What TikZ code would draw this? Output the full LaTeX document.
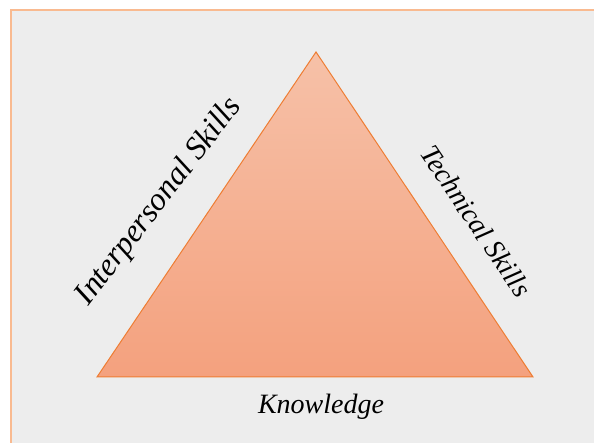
\documentclass[tikz,border=0pt]{standalone}
\usepackage{fontspec}
\setmainfont{Liberation Serif}
\definecolor{panelbg}{HTML}{EDEDED}
\definecolor{panelframe}{HTML}{F9BA90}
\definecolor{triedge}{HTML}{EE7D33}
\definecolor{tritop}{HTML}{F6C1A8}
\definecolor{tribottom}{HTML}{F4A17E}
\begin{document}
\begin{tikzpicture}[x=1pt,y=1pt,
  sidelabel/.style={font=\itshape\fontsize{28}{32}\selectfont, text=black, inner sep=0pt}]
  \useasboundingbox (0,0) rectangle (594,443);
  \fill[white] (0,0) rectangle (594,443);
  % panel with frame running off the right and bottom edges
  \draw[panelframe, line width=2pt, fill=panelbg] (10.5,432.5) rectangle (610,-20);
  % triangle corners
  \coordinate (apex) at (316,391);
  \coordinate (bl) at (97,66);
  \coordinate (br) at (533,66);
  \path[top color=tritop, bottom color=tribottom, draw=triedge, line width=1pt, line join=miter]
    (apex) -- (br) -- (bl) -- cycle;
  % side labels
  \node[sidelabel, font=\itshape\fontsize{32}{37}\selectfont, rotate=52.5] (inter) at (159,241) {Interpersonal Skills};
  \node[sidelabel, rotate=-56] (tech) at (476,222) {Technical Skills};
  \node[sidelabel] (know) at (321,36) {Knowledge};
\end{tikzpicture}
\end{document}
